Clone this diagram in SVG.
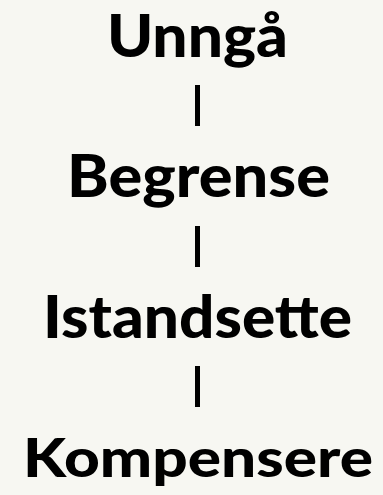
<svg xmlns="http://www.w3.org/2000/svg" width="383" height="495" viewBox="0 0 383 495">
<style>
.lbl{font-family:Lato,"Liberation Sans",sans-serif;font-weight:900;font-size:59px;fill:#000;text-anchor:middle}
.con{stroke:#000;stroke-width:5;fill:none}
</style>
<rect width="383" height="495" fill="#f7f7f2"/>
<g id="connectors">
<line class="con" x1="197.5" y1="85" x2="197.5" y2="126"/>
<line class="con" x1="197.5" y1="226" x2="197.5" y2="267"/>
<line class="con" x1="197.5" y1="366" x2="197.5" y2="407"/>
</g>
<g id="n1"><text class="lbl" x="197.5" y="57" textLength="181" lengthAdjust="spacingAndGlyphs">Unngå</text></g>
<g id="n2"><text class="lbl" x="198.5" y="197" textLength="263" lengthAdjust="spacingAndGlyphs">Begrense</text></g>
<g id="n3"><text class="lbl" x="197.5" y="338" textLength="309" lengthAdjust="spacingAndGlyphs">Istandsette</text></g>
<g id="n4"><text class="lbl" x="198" y="477" style="font-size:54px" textLength="350" lengthAdjust="spacingAndGlyphs">Kompensere</text></g>
</svg>
